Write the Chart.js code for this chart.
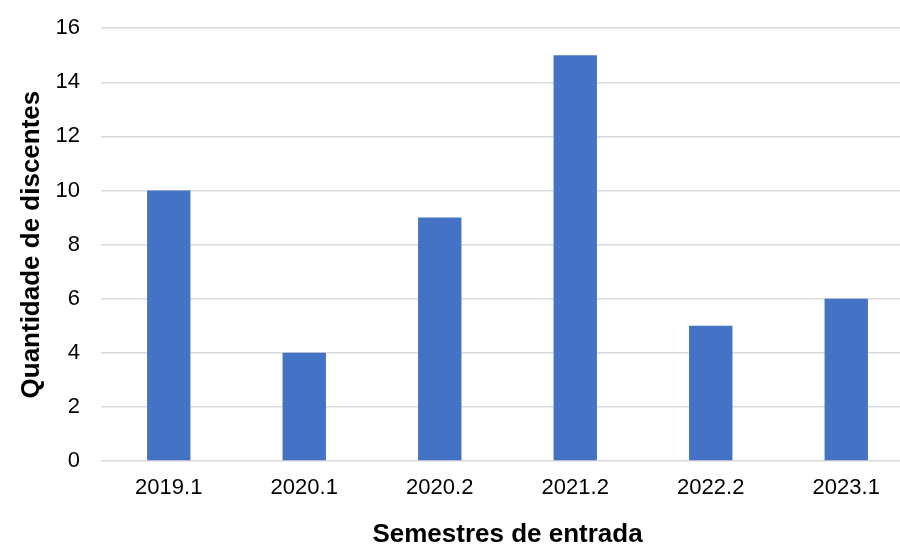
<!DOCTYPE html>
<html lang="pt">
<head>
    <meta charset="UTF-8">
    <title>Semestres de entrada</title>
    <script src="https://cdn.jsdelivr.net/npm/chart.js"></script>
    <style>
        html, body { margin: 0; padding: 0; background: #fff; overflow: hidden; }
        #wrap { width: 914px; height: 551px; margin-top: -6px; position: relative; }
    </style>
</head>
<body>
    <div id="wrap"><canvas id="chart"></canvas></div>
    <script>
        // dados
        const semesters = ['2019.1', '2020.1', '2020.2', '2021.2', '2022.2', '2023.1'];
        const students = [10, 4, 9, 15, 5, 6];
        const yTicks = [0, 2, 4, 6, 8, 10, 12, 14, 16];

        const font = 'Liberation Sans, Arial, sans-serif';

        new Chart(document.getElementById('chart'), {
            type: 'bar',
            data: {
                labels: semesters,
                datasets: [{
                    data: students,
                    backgroundColor: '#4472C4',
                    barPercentage: 0.32,
                    categoryPercentage: 1
                }]
            },
            options: {
                responsive: true,
                maintainAspectRatio: false,
                animation: false,
                layout: { padding: { top: 11, left: 0, right: 0, bottom: 0 } },
                plugins: { legend: { display: false }, tooltip: { enabled: false } },
                scales: {
                    x: {
                        grid: { display: false, drawTicks: false },
                        border: { display: false },
                        ticks: { color: '#000', font: { family: font, size: 22 }, padding: 14 },
                        title: {
                            display: true, text: 'Semestres de entrada', color: '#000',
                            font: { family: font, size: 26, weight: 'bold', lineHeight: 1 },
                            padding: { top: 0, bottom: -3 }
                        },
                        afterFit: s => { s.height = 84; }
                    },
                    y: {
                        min: 0, max: 16,
                        grid: { color: '#d9d9d9', lineWidth: 1.5, drawTicks: false },
                        border: { display: false },
                        afterBuildTicks: s => { s.ticks = yTicks.map(v => ({ value: v })); },
                        ticks: { color: '#000', font: { family: font, size: 22 }, padding: 21 },
                        title: {
                            display: true, text: 'Quantidade de discentes', color: '#000',
                            font: { family: font, size: 26, weight: 'bold', lineHeight: 1 },
                            padding: { top: 19, bottom: 0 }
                        },
                        afterFit: s => { s.width = 101; }
                    }
                }
            }
        });
    </script>
</body>
</html>
